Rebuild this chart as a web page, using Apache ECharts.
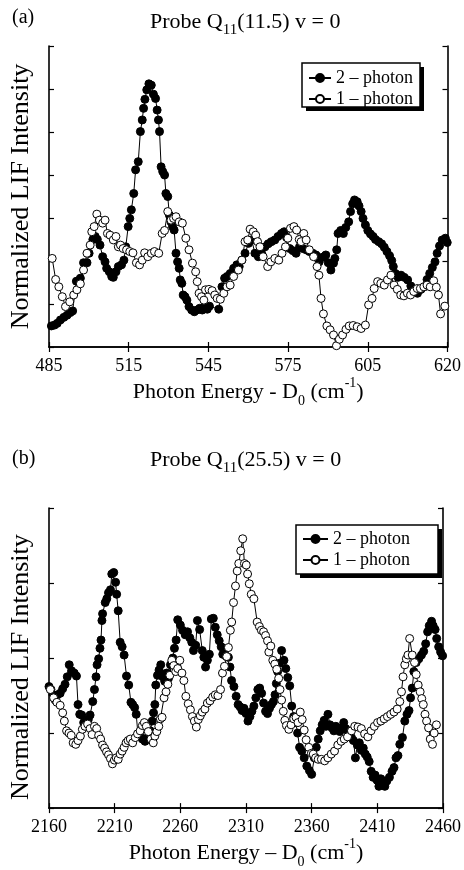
<!DOCTYPE html>
<html>
<head>
<meta charset="utf-8">
<script src="https://cdn.jsdelivr.net/npm/echarts@6/dist/echarts.min.js"></script>
<style>
html,body{margin:0;padding:0;background:#fff;}
#chart{width:464px;height:870px;}
</style>
</head>
<body>
<div id="chart"></div>
<script>
// ---------- data ----------
const seriesNames = ['2 – photon', '1 – photon'];
const topTickLabels = ['485', '515', '545', '575', '605', '620'];
const bottomTickLabels = ['2160', '2210', '2260', '2310', '2360', '2410', '2460'];

// Panel (a): Probe Q11(11.5) v = 0
const topTwoPhoton = [
[485.9,0.49],[487.1,0.51],[488.1,0.55],[489.3,0.63],[490.6,0.69],[491.8,0.74],[493.0,0.80],[493.9,0.84],
[495.3,1.53],[496.8,1.60],[498.0,1.96],[499.3,1.96],[500.1,2.18],[501.5,2.50],[502.4,2.57],[503.2,2.50],
[504.2,2.37],[505.2,2.10],[506.1,1.98],[506.7,1.83],[507.7,1.75],[508.6,1.64],[509.2,1.62],[510.2,1.75],
[511.1,1.87],[512.3,1.91],[513.2,2.02],[513.9,2.33],[514.8,2.80],[515.4,2.99],[516.0,3.19],[516.9,3.57],
[517.6,4.12],[518.6,4.31],[519.4,5.01],[520.1,5.28],[520.6,5.55],[521.1,5.76],[521.8,5.98],[522.6,6.12],
[523.5,6.09],[524.3,5.88],[525.1,5.78],[525.7,5.51],[526.2,5.28],[526.6,5.01],[527.2,4.19],[527.8,4.08],
[528.5,4.00],[529.0,3.57],[529.7,3.50],[530.3,3.07],[530.9,2.91],[531.5,2.80],[532.1,2.72],[532.8,2.18],
[533.4,1.98],[534.0,1.83],[534.4,1.56],[535.0,1.48],[535.5,1.21],[536.2,1.17],[536.9,1.09],[537.7,0.94],
[538.7,0.86],[539.7,0.82],[540.7,0.86],[541.7,0.90],[542.7,0.86],[543.7,0.94],[544.6,0.88],[545.4,0.95],
[548.9,0.88],[550.1,1.40],[551.1,1.60],[552.0,1.64],[553.2,1.71],[554.5,1.83],[555.7,1.91],[556.6,1.87],
[557.6,2.02],[558.8,2.18],[560.1,2.41],[561.3,2.49],[562.5,2.18],[563.8,2.10],[565.0,2.18],[566.3,2.33],
[567.5,2.40],[568.7,2.45],[570.0,2.49],[571.2,2.57],[572.5,2.64],[573.5,2.68],[574.4,2.55],[575.6,2.29],
[576.8,2.24],[578.0,2.18],[579.3,2.33],[580.5,2.29],[581.8,2.26],[583.0,2.22],[584.3,2.18],[585.5,2.14],
[586.7,1.98],[588.0,2.09],[589.2,2.14],[590.1,1.96],[591.1,1.79],[592.1,1.95],[592.6,2.06],[593.3,2.26],
[593.8,2.64],[594.8,2.71],[595.8,2.64],[596.7,2.78],[597.8,2.91],[598.5,3.15],[599.3,3.33],[600.0,3.42],
[601.0,3.38],[601.7,3.28],[602.5,3.15],[603.2,2.99],[604.1,2.84],[605.0,2.71],[606.0,2.63],[607.0,2.57],
[607.9,2.50],[609.1,2.45],[610.2,2.40],[611.2,2.32],[612.2,2.22],[613.2,2.12],[614.0,2.01],[614.6,1.87],
[615.4,1.71],[616.4,1.62],[617.5,1.67],[618.7,1.62],[620.0,1.56],[621.2,1.42],[622.5,1.31],[623.7,1.25],
[625.0,1.34],[626.2,1.40],[627.3,1.57],[628.3,1.71],[629.3,1.85],[630.3,1.98],[631.1,2.18],[632.0,2.35],
[633.0,2.49],[634.2,2.53],[634.9,2.43]
];
const topOnePhoton = [
[486.2,2.06],[487.5,1.57],[488.7,1.40],[490.0,1.17],[491.2,0.94],[492.8,1.05],[494.3,1.21],[495.5,1.33],
[496.8,1.47],[498.0,1.79],[499.3,2.18],[500.5,2.37],[501.1,2.68],[502.0,2.80],[503.0,3.09],[504.0,2.95],
[505.2,2.88],[506.1,2.95],[507.0,2.64],[508.0,2.60],[509.2,2.49],[510.2,2.57],[511.1,2.33],[511.9,2.37],
[512.9,2.29],[514.2,2.26],[515.4,2.22],[516.6,2.19],[517.9,1.96],[519.1,1.91],[520.1,2.02],[521.0,2.19],
[522.2,2.10],[523.5,2.18],[524.7,2.22],[526.3,2.18],[527.6,2.64],[528.5,2.71],[529.7,3.15],[530.9,2.95],
[531.9,2.99],[532.8,3.03],[534.0,2.91],[535.2,2.88],[536.5,2.53],[537.7,2.26],[539.0,1.95],[540.2,1.75],
[540.8,1.52],[541.5,1.25],[542.4,1.17],[543.3,1.09],[543.9,1.33],[545.2,1.34],[546.4,1.31],[547.4,1.21],
[548.3,1.13],[549.5,1.11],[550.8,1.25],[552.0,1.40],[553.2,1.44],[554.5,1.64],[556.3,1.79],[557.6,2.02],
[558.8,2.45],[559.8,2.49],[560.7,2.74],[561.9,2.68],[562.8,2.60],[563.5,2.45],[564.4,2.33],[565.6,2.10],
[567.3,1.87],[568.5,1.98],[570.0,2.06],[571.5,2.02],[572.7,2.18],[574.0,2.33],[574.9,2.53],[575.9,2.76],
[577.2,2.80],[578.2,2.72],[579.2,2.50],[579.9,2.45],[580.9,2.64],[581.8,2.49],[583.0,2.26],[584.6,2.10],
[585.9,1.87],[586.6,1.67],[587.4,1.13],[588.3,0.77],[589.6,0.49],[590.8,0.40],[592.1,0.28],[593.2,0.03],
[594.3,0.18],[595.5,0.28],[596.8,0.41],[598.0,0.49],[599.5,0.50],[601.0,0.47],[602.5,0.43],[604.1,0.51],
[605.3,0.98],[606.6,1.13],[607.4,1.36],[608.7,1.52],[609.9,1.48],[611.2,1.44],[612.4,1.56],[613.7,1.67],
[614.9,1.44],[616.1,1.34],[617.4,1.21],[618.6,1.19],[619.9,1.25],[621.1,1.21],[622.3,1.29],[623.6,1.36],
[624.8,1.36],[626.1,1.40],[627.3,1.44],[628.5,1.40],[629.8,1.54],[630.8,1.39],[631.6,1.21],[632.4,0.77],
[634.0,0.95]
];

// Panel (b): Probe Q11(25.5) v = 0
const botTwoPhoton = [
[2160.0,1.62],[2161.5,1.58],[2163.0,1.51],[2164.7,1.44],[2166.5,1.51],[2168.5,1.53],[2170.4,1.59],[2172.2,1.65],
[2173.9,1.75],[2175.4,1.91],[2177.2,1.83],[2179.2,1.80],[2180.9,1.76],[2182.1,1.38],[2183.4,1.25],[2184.9,1.24],
[2186.4,1.14],[2188.4,1.11],[2189.9,1.18],[2191.3,1.24],[2193.3,1.42],[2194.6,1.58],[2195.8,1.75],[2196.6,1.91],
[2197.8,1.99],[2198.8,2.13],[2199.6,2.24],[2200.3,2.50],[2200.8,2.59],[2202.8,2.74],[2204.0,2.79],[2205.3,2.87],
[2206.8,2.91],[2207.8,3.12],[2209.3,3.14],[2210.7,3.01],[2211.5,2.85],[2212.7,2.63],[2214.2,2.21],[2215.7,2.15],
[2217.2,2.04],[2219.0,1.76],[2220.7,1.64],[2222.4,1.41],[2223.7,1.38],[2225.2,1.34],[2226.4,1.25],[2227.7,0.99],
[2229.2,0.96],[2231.1,0.92],[2233.1,0.89],[2235.1,0.94],[2237.1,1.03],[2238.6,1.16],[2239.6,1.27],[2240.6,1.38],
[2241.3,1.64],[2242.6,1.77],[2243.8,1.84],[2245.1,1.91],[2246.6,1.75],[2248.1,1.69],[2249.6,1.80],[2251.0,1.73],
[2252.5,1.91],[2254.3,2.00],[2255.5,2.13],[2256.8,2.24],[2258.0,2.51],[2260.0,2.44],[2261.7,2.37],[2263.7,2.31],
[2265.5,2.35],[2267.2,2.27],[2268.7,2.21],[2270.0,2.10],[2271.7,2.17],[2273.0,2.50],[2274.7,2.38],[2276.7,2.10],
[2277.9,2.01],[2279.2,1.88],[2280.6,1.97],[2282.1,2.05],[2283.6,2.52],[2285.1,2.53],[2286.6,2.41],[2288.1,2.31],
[2289.6,2.23],[2291.1,2.15],[2292.3,2.05],[2293.6,2.08],[2295.1,2.02],[2296.6,2.01],[2297.8,1.88],[2299.0,1.70],
[2300.8,1.62],[2302.5,1.49],[2304.0,1.38],[2305.5,1.35],[2307.0,1.30],[2308.5,1.33],[2310.0,1.26],[2311.5,1.16],
[2313.0,1.22],[2314.5,1.29],[2316.0,1.36],[2317.5,1.47],[2319.0,1.58],[2320.4,1.60],[2321.9,1.53],[2323.4,1.40],
[2324.9,1.29],[2326.4,1.26],[2327.9,1.33],[2329.4,1.38],[2330.9,1.42],[2332.1,1.51],[2333.1,1.66],[2334.1,1.82],
[2335.4,1.93],[2337.1,2.10],[2338.9,1.97],[2340.3,1.86],[2341.8,1.74],[2343.3,1.63],[2344.8,1.36],[2346.3,1.22],
[2347.8,1.14],[2349.3,1.00],[2350.8,0.81],[2352.5,0.76],[2354.3,0.67],[2356.3,0.56],[2358.3,0.50],[2360.0,0.45],
[2362.0,0.67],[2363.5,0.81],[2365.0,0.92],[2366.5,1.03],[2368.0,1.11],[2369.5,1.17],[2370.9,1.09],[2372.4,1.25],
[2373.9,1.11],[2375.4,1.07],[2376.9,1.03],[2378.4,1.09],[2379.9,1.06],[2381.4,1.02],[2382.9,1.07],[2384.4,1.14],
[2385.9,1.06],[2387.4,1.03],[2388.9,1.02],[2390.3,0.94],[2391.8,0.90],[2393.3,0.67],[2394.8,0.84],[2396.3,0.87],
[2397.8,0.77],[2399.3,0.80],[2400.8,0.72],[2402.3,0.68],[2403.8,0.62],[2405.3,0.49],[2406.8,0.41],[2408.3,0.44],
[2409.8,0.37],[2411.2,0.29],[2412.7,0.39],[2414.2,0.34],[2415.7,0.29],[2417.2,0.36],[2419.2,0.41],[2421.2,0.49],
[2422.7,0.54],[2424.2,0.67],[2425.7,0.70],[2427.1,0.85],[2429.1,0.94],[2430.9,1.16],[2432.6,1.25],[2434.1,1.30],
[2435.3,1.47],[2436.6,1.60],[2437.8,1.82],[2439.6,1.94],[2441.6,1.99],[2443.6,2.04],[2445.3,2.09],[2446.8,2.19],
[2448.3,2.35],[2449.5,2.43],[2451.3,2.49],[2452.5,2.43],[2454.0,2.38],[2455.2,2.26],[2456.7,2.15],[2458.2,2.08],
[2459.7,2.03]
];
const botOnePhoton = [
[2161.0,1.58],[2163.5,1.47],[2166.0,1.41],[2168.5,1.37],[2170.4,1.27],[2171.7,1.16],[2173.4,1.03],[2175.2,1.00],
[2176.9,0.97],[2178.4,0.87],[2180.4,0.85],[2182.1,0.90],[2183.9,0.96],[2185.4,1.05],[2187.4,1.09],[2189.4,1.12],
[2191.3,1.06],[2192.8,0.98],[2194.6,1.09],[2196.3,1.06],[2197.8,0.97],[2199.3,0.92],[2200.8,0.84],[2202.3,0.80],
[2203.8,0.75],[2205.3,0.71],[2206.8,0.66],[2208.3,0.59],[2209.8,0.64],[2211.2,0.67],[2212.7,0.65],[2214.2,0.72],
[2215.7,0.76],[2217.2,0.81],[2218.7,0.87],[2220.2,0.90],[2221.9,0.92],[2223.7,0.87],[2225.7,0.94],[2227.4,0.99],
[2229.4,1.03],[2231.1,1.10],[2232.6,1.14],[2234.1,1.09],[2235.6,1.02],[2237.6,0.92],[2239.4,0.87],[2240.6,0.96],
[2242.1,1.02],[2243.6,1.09],[2244.8,1.19],[2246.1,1.21],[2247.6,1.47],[2249.1,1.55],[2250.5,1.65],[2252.0,1.77],
[2253.5,1.97],[2255.0,1.90],[2256.5,1.82],[2258.0,1.86],[2259.6,1.97],[2261.2,1.80],[2262.7,1.70],[2264.2,1.49],
[2266.0,1.39],[2267.7,1.31],[2269.2,1.22],[2270.7,1.16],[2272.2,1.08],[2273.7,1.18],[2275.2,1.23],[2276.7,1.28],
[2278.7,1.32],[2280.6,1.40],[2282.6,1.43],[2284.6,1.48],[2286.6,1.51],[2288.6,1.50],[2290.6,1.58],[2292.1,1.80],
[2293.6,1.89],[2295.3,2.02],[2296.6,2.14],[2298.1,2.37],[2299.1,2.48],[2300.5,2.74],[2302.0,2.96],[2303.3,3.16],
[2304.5,3.26],[2306.0,3.43],[2307.5,3.59],[2308.8,3.26],[2310.2,3.24],[2311.2,3.12],[2312.5,2.99],[2314.0,2.85],
[2316.0,2.79],[2318.5,2.48],[2320.2,2.42],[2321.7,2.37],[2323.4,2.35],[2324.9,2.30],[2326.4,2.23],[2327.4,2.08],
[2328.9,2.16],[2330.4,1.97],[2331.9,1.92],[2333.4,1.85],[2334.9,1.73],[2335.9,1.58],[2337.1,1.44],[2338.4,1.29],
[2339.6,1.17],[2340.8,1.10],[2342.6,1.05],[2344.3,1.11],[2346.3,1.19],[2348.1,1.21],[2349.6,1.14],[2351.3,1.28],
[2352.8,1.18],[2354.3,1.04],[2355.8,0.91],[2357.8,0.81],[2359.8,0.73],[2361.2,0.72],[2363.0,0.67],[2365.0,0.65],
[2367.4,0.65],[2369.9,0.63],[2372.4,0.67],[2374.9,0.72],[2377.4,0.76],[2379.9,0.84],[2382.4,0.89],[2384.8,0.92],
[2387.3,0.95],[2390.3,1.03],[2392.8,1.09],[2395.3,1.08],[2397.8,1.06],[2400.3,0.99],[2402.8,0.95],[2405.2,1.03],
[2407.7,1.09],[2410.2,1.14],[2412.7,1.16],[2415.2,1.19],[2417.7,1.22],[2420.2,1.25],[2422.7,1.28],[2425.1,1.32],
[2427.1,1.42],[2428.4,1.55],[2429.6,1.75],[2430.9,1.91],[2432.1,1.99],[2433.3,2.04],[2434.6,2.26],[2436.6,2.04],
[2438.3,1.94],[2439.6,1.78],[2441.1,1.64],[2442.6,1.55],[2443.8,1.46],[2445.0,1.38],[2446.3,1.25],[2447.5,1.16],
[2449.0,1.07],[2450.3,0.92],[2452.0,0.85],[2453.3,1.00],[2455.0,1.11]
];

// ---------- chart ----------
const FONT = "'Liberation Serif', 'DejaVu Serif', serif";
const BLACK = '#000';

function subRich(size) {
  return {
    sub: { fontSize: size, fontFamily: FONT, color: BLACK, verticalAlign: 'bottom', lineHeight: size },
    sup: { fontSize: size, fontFamily: FONT, color: BLACK, verticalAlign: 'top', lineHeight: size }
  };
}

function xAxes(gridIndex, min, max, interval, labels, nameText, nameGap) {
  const line = { show: true, lineStyle: { color: BLACK, width: 1.6 } };
  const tick = { show: true, inside: true, length: 5, lineStyle: { color: BLACK, width: 1.2 } };
  return [
    {
      type: 'value', gridIndex, position: 'bottom', min, max, interval,
      axisLine: line, axisTick: tick, splitLine: { show: false },
      axisLabel: {
        color: BLACK, fontFamily: FONT, fontSize: 18, margin: 10,
        formatter: v => labels[Math.round((v - min) / interval)] || ''
      },
      name: nameText, nameLocation: 'middle', nameGap,
      nameTextStyle: { color: BLACK, fontFamily: FONT, fontSize: 22, lineHeight: 32, rich: subRich(14) }
    },
    {
      type: 'value', gridIndex, position: 'top', min, max, interval,
      axisLine: line, axisTick: tick, splitLine: { show: false }, axisLabel: { show: false }
    }
  ];
}

function yAxes(gridIndex, min, max, namePadding) {
  const line = { show: true, lineStyle: { color: BLACK, width: 1.6 } };
  const tick = { show: true, inside: true, length: 5, lineStyle: { color: BLACK, width: 1.2 } };
  return [
    {
      type: 'value', gridIndex, position: 'left', min, max, interval: 1,
      axisLine: line, axisTick: tick, splitLine: { show: false }, axisLabel: { show: false },
      name: 'Normalized LIF Intensity', nameLocation: 'middle', nameGap: 15,
      nameTextStyle: { color: BLACK, fontFamily: FONT, fontSize: 26, padding: namePadding }
    },
    {
      type: 'value', gridIndex, position: 'right', min, max, interval: 1,
      axisLine: line, axisTick: tick, splitLine: { show: false }, axisLabel: { show: false }
    }
  ];
}

function makeSeries(name, data, xi, yi, filled) {
  return {
    type: 'line', name, data, xAxisIndex: xi, yAxisIndex: yi,
    symbol: 'circle', symbolSize: 8, showSymbol: true, showAllSymbol: true,
    lineStyle: { color: BLACK, width: 1 },
    itemStyle: filled ? { color: BLACK, borderColor: BLACK, borderWidth: 1 }
                      : { color: '#fff', borderColor: BLACK, borderWidth: 1 },
    emphasis: { disabled: true },
    z: filled ? 2 : 3,
    animation: false
  };
}

function legend(left, top, padding, itemWidth, itemGap, fontSize) {
  return {
    orient: 'vertical', left, top, padding, itemGap, itemWidth, itemHeight: 10,
    data: seriesNames, selectedMode: false, z: 20,
    backgroundColor: 'transparent', borderWidth: 0,
    textStyle: { color: BLACK, fontFamily: FONT, fontSize }
  };
}

// legend frames with solid drop shadow (decoration only)
function legendFrame(x, y, w, h) {
  return [
    { type: 'rect', z: 10, shape: { x: x + 4, y: y + 4, width: w, height: h }, style: { fill: BLACK } },
    { type: 'rect', z: 11, shape: { x, y, width: w, height: h }, style: { fill: '#fff', stroke: BLACK, lineWidth: 1.5 } }
  ];
}

const titleRich = {
  sub: { fontSize: 15, fontFamily: FONT, color: BLACK, verticalAlign: 'bottom', lineHeight: 15 }
};
const titleStyle = { color: BLACK, fontFamily: FONT, fontSize: 22, fontWeight: 'normal', lineHeight: 32, rich: titleRich };
const panelStyle = { color: BLACK, fontFamily: FONT, fontSize: 20, fontWeight: 'normal' };

const option = {
  backgroundColor: '#fff',
  animation: false,
  title: [
    { text: '(a)', left: 12, top: 8, padding: 0, textStyle: panelStyle },
    { text: 'Probe Q{sub|11}(11.5) v = 0', left: 150, top: 6, padding: 0, textStyle: titleStyle },
    { text: '(b)', left: 12, top: 449, padding: 0, textStyle: panelStyle },
    { text: 'Probe Q{sub|11}(25.5) v = 0', left: 150, top: 444, padding: 0, textStyle: titleStyle }
  ],
  graphic: [
    ...legendFrame(302, 63, 118, 44),
    ...legendFrame(296, 525, 142, 49)
  ],
  grid: [
    { left: 45, top: 46, width: 403, height: 301 },
    { left: 42, top: 508, width: 402, height: 303 }
  ],
  xAxis: [
    ...xAxes(0, 485, 635, 30, topTickLabels, 'Photon Energy - D{sub|0} (cm{sup|-1})', 23),
    ...xAxes(1, 2160, 2460, 50, bottomTickLabels, 'Photon Energy – D{sub|0} (cm{sup|-1})', 20)
  ],
  yAxis: [
    ...yAxes(0, 0, 7, [0, 0, 0, 0]),
    ...yAxes(1, 0, 4, [0, 18, 0, 0])
  ],
  legend: [
    legend(302, 64, [5, 6, 5, 6], 22, 3, 18),
    legend(296, 526, [4, 6, 4, 6], 25, 3, 18)
  ],
  series: [
    makeSeries(seriesNames[0], topTwoPhoton, 0, 0, true),
    makeSeries(seriesNames[1], topOnePhoton, 0, 0, false),
    makeSeries(seriesNames[0], botTwoPhoton, 2, 2, true),
    makeSeries(seriesNames[1], botOnePhoton, 2, 2, false)
  ]
};

const chart = echarts.init(document.getElementById('chart'), null, { renderer: 'canvas' });
chart.setOption(option);
</script>
</body>
</html>
